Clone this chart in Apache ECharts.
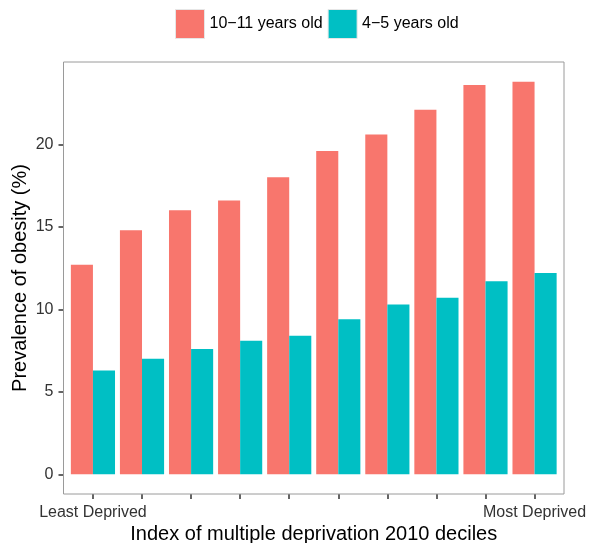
<!DOCTYPE html>
<html>
<head>
<meta charset="utf-8">
<style>
  html, body { margin: 0; padding: 0; background: #ffffff; }
  #chart { width: 590px; height: 543px; }
</style>
<script src="https://cdn.jsdelivr.net/npm/echarts@6/dist/echarts.min.js"></script>
</head>
<body>
<div id="chart"></div>
<script>
// IMD 2010 deciles, least to most deprived
const deciles = ['1', '2', '3', '4', '5', '6', '7', '8', '9', '10'];
const decileTickLabels = { 0: 'Least Deprived', 9: 'Most Deprived' };

// Obesity prevalence (%) by age group
const seriesNames = ['10\u221211 years old', '4\u22125 years old'];
const olderChildren = [12.7, 14.8, 16.0, 16.6, 18.0, 19.6, 20.6, 22.1, 23.6, 23.8];
const youngerChildren = [6.3, 7.0, 7.6, 8.1, 8.4, 9.4, 10.3, 10.7, 11.7, 12.2];

const yTicks = [0, 5, 10, 15, 20];

const fontFamily = 'Liberation Sans, Arial, Helvetica, sans-serif';
const colors = ['#F8766D', '#00BFC4'];

// panel frame
const panel = { left: 63.5, top: 62, right: 564, bottom: 494 };
const unit = (panel.right - panel.left) / 10.2;

const chart = echarts.init(document.getElementById('chart'), null, { renderer: 'canvas' });

chart.setOption({
  animation: false,
  backgroundColor: '#ffffff',
  textStyle: { fontFamily: fontFamily },
  color: colors,
  legend: {
    left: 175,
    top: 9,
    padding: 0,
    itemWidth: 29,
    itemHeight: 29,
    itemGap: 5,
    icon: 'rect',
    textStyle: { fontSize: 16, color: '#000000', fontFamily: fontFamily },
    itemStyle: { borderColor: '#e6e6e6', borderWidth: 1 },
    data: seriesNames
  },
  graphic: [{
    type: 'rect',
    silent: true,
    z: 10,
    shape: {
      x: panel.left,
      y: panel.top,
      width: panel.right - panel.left,
      height: panel.bottom - panel.top
    },
    style: { fill: 'none', stroke: '#9a9a9a', lineWidth: 1 }
  }],
  grid: {
    left: panel.left + 0.1 * unit,
    right: 590 - (panel.right - 0.1 * unit),
    top: panel.top,
    bottom: 543 - panel.bottom,
    containLabel: false,
    outerBoundsMode: 'none'
  },
  xAxis: {
    type: 'category',
    data: deciles,
    name: 'Index of multiple deprivation 2010 deciles',
    nameLocation: 'middle',
    nameGap: 30.5,
    nameMoveOverlap: false,
    nameTextStyle: { fontSize: 20, color: '#000000', fontFamily: fontFamily },
    axisLine: { show: false, onZero: false },
    axisTick: {
      show: true,
      alignWithLabel: true,
      interval: 0,
      length: 5,
      lineStyle: { color: '#333333', width: 1.5 }
    },
    axisLabel: {
      interval: 0,
      margin: 11,
      fontSize: 16,
      color: '#333333',
      formatter: function (v, i) { return decileTickLabels[i] || ''; }
    },
    splitLine: { show: false }
  },
  yAxis: {
    type: 'value',
    min: -1.19,
    max: 24.99,
    offset: 0.1 * unit,
    name: 'Prevalence of obesity (%)',
    nameLocation: 'middle',
    nameGap: 33,
    nameMoveOverlap: false,
    nameTextStyle: { fontSize: 20, color: '#000000', fontFamily: fontFamily },
    axisLine: { show: false },
    axisTick: {
      show: true,
      length: 5,
      customValues: yTicks,
      lineStyle: { color: '#333333', width: 1.5 }
    },
    axisLabel: {
      margin: 10,
      fontSize: 16,
      color: '#333333',
      customValues: yTicks
    },
    splitLine: { show: false }
  },
  series: [
    {
      name: seriesNames[0],
      type: 'bar',
      data: olderChildren,
      barGap: '0%',
      barCategoryGap: '10%',
      itemStyle: { color: colors[0] }
    },
    {
      name: seriesNames[1],
      type: 'bar',
      data: youngerChildren,
      barGap: '0%',
      barCategoryGap: '10%',
      itemStyle: { color: colors[1] }
    }
  ]
});
</script>
</body>
</html>
